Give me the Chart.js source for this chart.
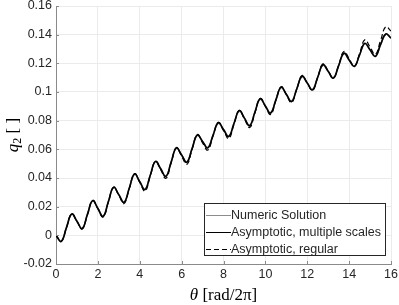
<!DOCTYPE html>
<html>
<head>
<meta charset="utf-8">
<script src="https://cdn.jsdelivr.net/npm/chart.js@4"></script>
<style>
  html, body { margin: 0; padding: 0; background: #fff; }
  #wrap { width: 399px; height: 305px; }
</style>
</head>
<body>
<div id="wrap"><canvas id="chartQ2"></canvas></div>
<script>
// theta in rad/2pi
const theta = [
  0, 0.25, 0.5, 0.75, 1, 1.25, 1.5, 1.75, 2, 2.25, 2.5, 2.75, 3, 3.25, 3.5, 3.75,
  4, 4.25, 4.5, 4.75, 5, 5.25, 5.5, 5.75, 6, 6.25, 6.5, 6.75, 7, 7.25, 7.5, 7.75,
  8, 8.25, 8.5, 8.75, 9, 9.25, 9.5, 9.75, 10, 10.25, 10.5, 10.75, 11, 11.25, 11.5, 11.75,
  12, 12.25, 12.5, 12.75, 13, 13.25, 13.5, 13.75, 14, 14.25, 14.5, 14.75, 15, 15.25, 15.5, 15.75,
  16
];

const numeric = [
  0, -0.0041, 0.0055, 0.0148, 0.0099, 0.0048, 0.0146, 0.0241, 0.0188, 0.0134, 0.0235, 0.0333, 0.0284, 0.0232, 0.0330, 0.0426,
  0.0375, 0.0322, 0.0419, 0.0514, 0.0465, 0.0414, 0.0512, 0.0607, 0.0560, 0.0513, 0.0606, 0.0697, 0.0655, 0.0613, 0.0699, 0.0782,
  0.0738, 0.0693, 0.0781, 0.0866, 0.0817, 0.0768, 0.0860, 0.0949, 0.0902, 0.0856, 0.0945, 0.1030, 0.0983, 0.0937, 0.1023, 0.1106,
  0.1062, 0.1018, 0.1104, 0.1186, 0.1143, 0.1100, 0.1185, 0.1266, 0.1223, 0.1181, 0.1260, 0.1336, 0.1293, 0.1251, 0.1331, 0.1402,
  0.1378
];

const multipleScales = [
  0, -0.0042, 0.0054, 0.0149, 0.0098, 0.0047, 0.0145, 0.0242, 0.0187, 0.0132, 0.0234, 0.0335, 0.0283, 0.0230, 0.0329, 0.0428,
  0.0374, 0.0319, 0.0418, 0.0516, 0.0464, 0.0411, 0.0511, 0.0610, 0.0560, 0.0510, 0.0605, 0.0700, 0.0655, 0.0610, 0.0698, 0.0785,
  0.0738, 0.0690, 0.0780, 0.0870, 0.0818, 0.0765, 0.0859, 0.0953, 0.0903, 0.0853, 0.0944, 0.1034, 0.0984, 0.0934, 0.1022, 0.1110,
  0.1063, 0.1015, 0.1103, 0.1190, 0.1144, 0.1097, 0.1184, 0.1270, 0.1224, 0.1178, 0.1259, 0.1340, 0.1294, 0.1248, 0.1330, 0.1405,
  0.1375
];

const regular = [
  0, -0.0043, 0.0054, 0.0150, 0.0097, 0.0045, 0.0144, 0.0243, 0.0186, 0.0128, 0.0232, 0.0336, 0.0280, 0.0222, 0.0326, 0.0430,
  0.0370, 0.0308, 0.0413, 0.0517, 0.0458, 0.0398, 0.0505, 0.0612, 0.0553, 0.0495, 0.0600, 0.0703, 0.0645, 0.0595, 0.0692, 0.0788,
  0.0731, 0.0675, 0.0773, 0.0872, 0.0812, 0.0752, 0.0853, 0.0955, 0.0899, 0.0843, 0.0940, 0.1037, 0.0982, 0.0926, 0.1019, 0.1115,
  0.1062, 0.1010, 0.1102, 0.1197, 0.1147, 0.1095, 0.1186, 0.1283, 0.1232, 0.1178, 0.1268, 0.1364, 0.1314, 0.1262, 0.1358, 0.1455,
  0.1425
];

const seriesNames = ['Numeric Solution', 'Asymptotic, multiple scales', 'Asymptotic, regular'];
const xTicks = [0, 2, 4, 6, 8, 10, 12, 14, 16];
const yTicks = [-0.02, 0, 0.02, 0.04, 0.06, 0.08, 0.1, 0.12, 0.14, 0.16];

const tickFont = { family: "'Liberation Sans', Arial, sans-serif", size: 12.5 };
const toXY = arr => arr.map((v, i) => ({ x: theta[i], y: v }));

// inward tick marks (matlab style)
const innerTicks = {
  id: 'innerTicks',
  afterDatasetsDraw(chart) {
    const { ctx, chartArea: a, scales: { x, y } } = chart;
    ctx.save();
    ctx.strokeStyle = '#8a8a8a';
    ctx.lineWidth = 1;
    ctx.beginPath();
    xTicks.forEach(t => {
      const px = Math.round(x.getPixelForValue(t)) + 0.5;
      ctx.moveTo(px, a.bottom);
      ctx.lineTo(px, a.bottom - 3);
    });
    yTicks.forEach(t => {
      const py = Math.round(y.getPixelForValue(t)) + 0.5;
      ctx.moveTo(a.left, py);
      ctx.lineTo(a.left + 3, py);
    });
    ctx.stroke();
    ctx.restore();
  }
};

// legend box in lower right + axis titles
const boxLegend = {
  id: 'boxLegend',
  afterDraw(chart) {
    const { ctx, chartArea: a } = chart;
    ctx.save();
    const bx = 204.5, by = 203.5, bw = 181, bh = 52;
    ctx.fillStyle = '#fff';
    ctx.fillRect(bx, by, bw, bh);
    ctx.strokeStyle = '#262626';
    ctx.lineWidth = 1;
    ctx.strokeRect(bx, by, bw, bh);
    ctx.font = "12.5px 'Liberation Sans', Arial, sans-serif";
    ctx.textBaseline = 'middle';
    chart.data.datasets.forEach((ds, i) => {
      const ry = 215.5 + i * 17;
      ctx.strokeStyle = ds.borderColor;
      ctx.lineWidth = 1;
      ctx.setLineDash(ds.borderDash || []);
      ctx.beginPath();
      ctx.moveTo(206, ry);
      ctx.lineTo(231, ry);
      ctx.stroke();
      ctx.setLineDash([]);
      ctx.fillStyle = '#262626';
      ctx.fillText(ds.label, 231, ry + 0.5);
    });

    // x title: theta [rad/2pi]
    ctx.fillStyle = '#000';
    ctx.textBaseline = 'alphabetic';
    const cx = (a.left + a.right) / 2;
    const p1 = 'θ', p2 = ' [rad/2π]';
    ctx.font = "italic 17px 'Liberation Serif', 'DejaVu Serif', serif";
    const w1 = ctx.measureText(p1).width;
    ctx.font = "17px 'Liberation Serif', 'DejaVu Serif', serif";
    const w2 = ctx.measureText(p2).width;
    let sx = cx - (w1 + w2) / 2;
    ctx.font = "italic 17px 'Liberation Serif', 'DejaVu Serif', serif";
    ctx.fillText(p1, sx, 300);
    ctx.font = "17px 'Liberation Serif', 'DejaVu Serif', serif";
    ctx.fillText(p2, sx + w1, 300);

    // y title: q2 [ ]
    const cy = (a.top + a.bottom) / 2;
    ctx.translate(18, cy);
    ctx.rotate(-Math.PI / 2);
    ctx.font = "italic 17px 'Liberation Serif', 'DejaVu Serif', serif";
    const wq = ctx.measureText('q').width;
    ctx.font = "12px 'Liberation Serif', 'DejaVu Serif', serif";
    const ws = ctx.measureText('2').width;
    ctx.font = "17px 'Liberation Serif', 'DejaVu Serif', serif";
    const wb = ctx.measureText(' [ ]').width;
    let qx = -(wq + ws + wb) / 2;
    ctx.font = "italic 17px 'Liberation Serif', 'DejaVu Serif', serif";
    ctx.fillText('q', qx, 0);
    ctx.font = "12px 'Liberation Serif', 'DejaVu Serif', serif";
    ctx.fillText('2', qx + wq, 3);
    ctx.font = "17px 'Liberation Serif', 'DejaVu Serif', serif";
    ctx.fillText(' [ ]', qx + wq + ws, 0);
    ctx.restore();
  }
};

new Chart(document.getElementById('chartQ2'), {
  type: 'line',
  data: {
    datasets: [
      {
        label: seriesNames[0],
        data: toXY(numeric),
        borderColor: '#8c8c8c',
        borderWidth: 1.6,
        order: 3,
      },
      {
        label: seriesNames[1],
        data: toXY(multipleScales),
        borderColor: '#000000',
        borderWidth: 1.6,
        order: 1,
      },
      {
        label: seriesNames[2],
        data: toXY(regular),
        borderColor: '#000000',
        borderWidth: 1.2,
        borderDash: [5, 3],
        order: 2,
      }
    ]
  },
  options: {
    responsive: true,
    maintainAspectRatio: false,
    animation: false,
    devicePixelRatio: 1,
    layout: { padding: { top: 6, right: 8, left: 0, bottom: 0 } },
    elements: {
      point: { radius: 0 },
      line: { tension: 0.45, fill: false }
    },
    plugins: {
      legend: { display: false },
      tooltip: { enabled: false }
    },
    scales: {
      x: {
        type: 'linear',
        min: 0,
        max: 16,
        afterBuildTicks: scale => { scale.ticks = xTicks.map(v => ({ value: v })); },
        afterFit: scale => { scale.height = 41; scale.paddingLeft = 0; scale.paddingRight = 0; },
        ticks: { color: '#262626', font: tickFont, padding: 3, maxRotation: 0 },
        grid: { color: '#ebebeb', drawTicks: false, lineWidth: 1 },
        border: { color: '#8a8a8a', width: 1 }
      },
      y: {
        min: -0.02,
        max: 0.16,
        afterBuildTicks: scale => { scale.ticks = yTicks.map(v => ({ value: v })); },
        afterFit: scale => { scale.width = 56; scale.paddingTop = 0; scale.paddingBottom = 0; },
        ticks: {
          color: '#262626',
          font: tickFont,
          padding: 4,
          callback: v => String(Number(v.toFixed(2)))
        },
        grid: { color: '#ebebeb', drawTicks: false, lineWidth: 1 },
        border: { color: '#8a8a8a', width: 1 }
      }
    }
  },
  plugins: [innerTicks, boxLegend]
});
</script>
</body>
</html>
